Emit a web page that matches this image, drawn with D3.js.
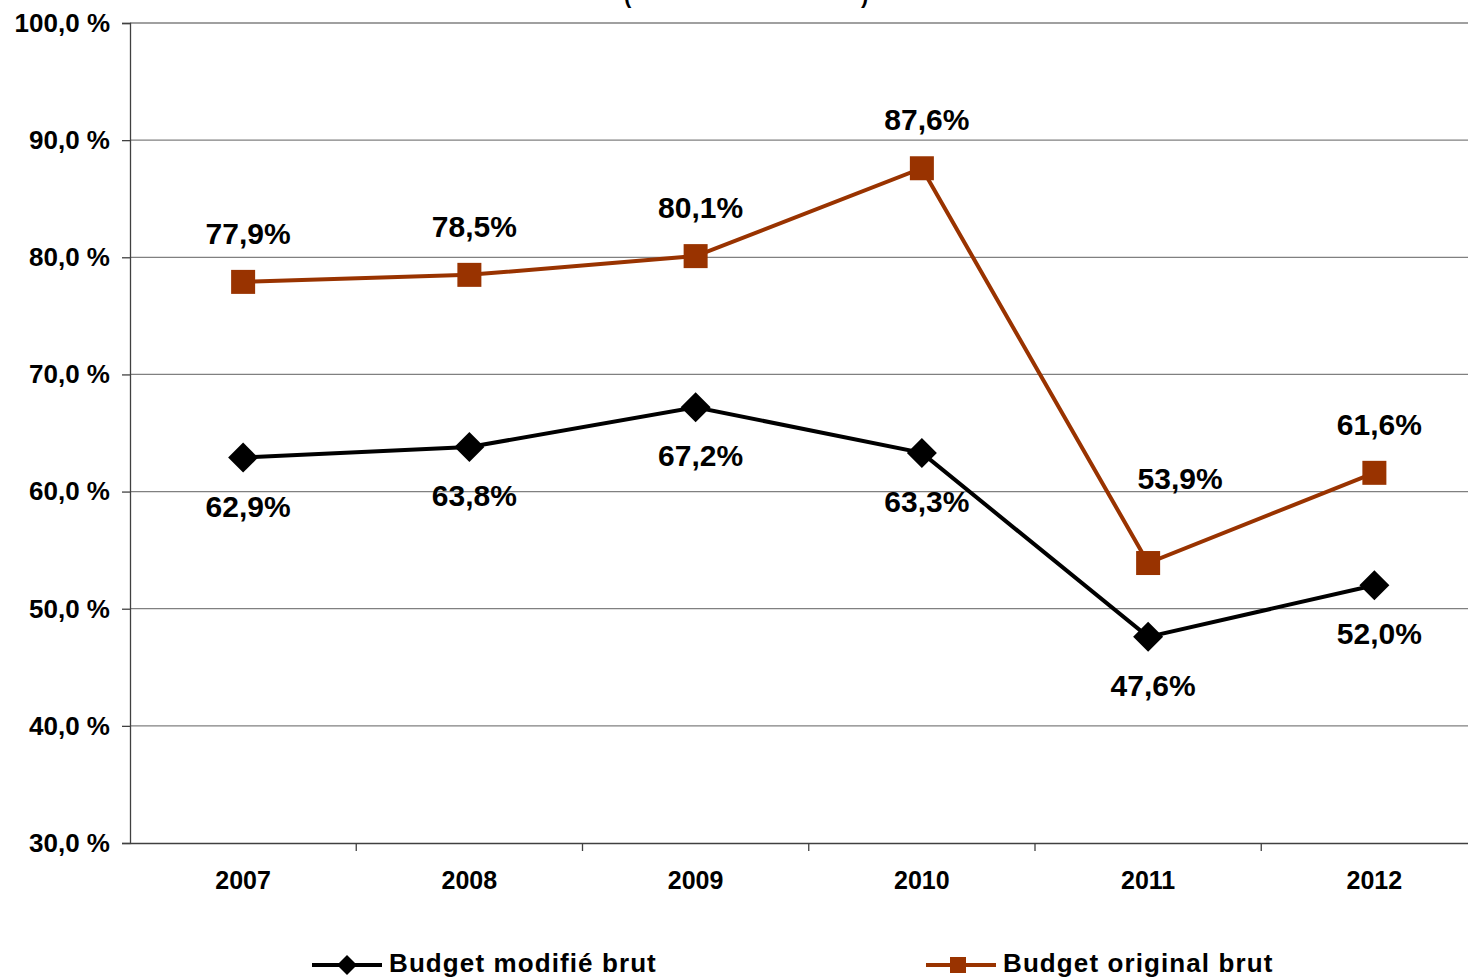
<!DOCTYPE html>
<html><head><meta charset="utf-8">
<script src="https://cdn.jsdelivr.net/npm/d3@7"></script>
<style>body{margin:0;background:#fff;}svg{display:block;font-family:"Liberation Sans",Arial,sans-serif;font-weight:bold;}</style>
</head><body>
<script>
const years = ["2007","2008","2009","2010","2011","2012"];
const budgetModifie = [62.9, 63.8, 67.2, 63.3, 47.6, 52.0];
const budgetOriginal = [77.9, 78.5, 80.1, 87.6, 53.9, 61.6];
const yTicks = [30,40,50,60,70,80,90,100];
const seriesNames = ["Budget modifié brut","Budget original brut"];

const W=1468,H=979;
const svg=d3.select("body").append("svg").attr("width",W).attr("height",H);
const x=d3.scaleBand().domain(years).range([130,1487.5]);
const y=d3.scaleLinear().domain([30,100]).range([843,23]);
const fmt=v=>d3.format(".1f")(v).replace(".",",");
const FF="'Liberation Sans',Arial,sans-serif";

// title remnants (clipped at the top edge in the reference)
svg.append("text").attr("x",624).attr("y",3).attr("font-size",22).text("(");
svg.append("text").attr("x",861).attr("y",3).attr("font-size",22).text(")");

// gridlines
svg.append("g").selectAll("line").data(yTicks.filter(t=>t>30)).join("line")
 .attr("x1",130).attr("x2",W).attr("y1",d=>y(d)).attr("y2",d=>y(d))
 .attr("stroke","#808080").attr("stroke-width",1.3);

// y axis
const ya=svg.append("g").attr("transform","translate(130,0)")
 .call(d3.axisLeft(y).tickValues(yTicks).tickSize(8).tickPadding(12).tickFormat(d=>fmt(d)+" %"));
ya.select(".domain").attr("stroke","#404040").attr("stroke-width",1.3);
ya.selectAll(".tick line").attr("stroke","#404040").attr("stroke-width",1.3);
ya.selectAll("text").attr("font-size",26).attr("font-weight","bold").attr("fill","#000").attr("font-family",FF);

// x axis
const xa=svg.append("g").attr("transform","translate(0,843)")
 .call(d3.axisBottom(x).tickSize(0).tickPadding(28));
xa.select(".domain").attr("stroke","#404040").attr("stroke-width",1.3);
xa.selectAll("text").attr("font-size",25).attr("font-weight","bold").attr("fill","#000").attr("font-family",FF);
const bounds=x.domain().map(d=>x(d)).slice(1);
svg.append("g").selectAll("line").data(bounds).join("line")
 .attr("x1",d=>d).attr("x2",d=>d).attr("y1",843).attr("y2",851)
 .attr("stroke","#404040").attr("stroke-width",1.3);

const cx=d=>x(d)+x.bandwidth()/2;
const line=d3.line().x((d,i)=>cx(years[i])).y(d=>y(d));
const orange="#993300";

// orange series
svg.append("path").datum(budgetOriginal).attr("d",line).attr("fill","none")
 .attr("stroke",orange).attr("stroke-width",4);
svg.append("g").selectAll("rect").data(budgetOriginal).join("rect")
 .attr("x",(d,i)=>cx(years[i])-12).attr("y",d=>y(d)-12).attr("width",24).attr("height",24)
 .attr("fill",orange);
// black series
svg.append("path").datum(budgetModifie).attr("d",line).attr("fill","none")
 .attr("stroke","#000").attr("stroke-width",4);
const diamond=s=>`M0,${-s}L${s},0L0,${s}L${-s},0Z`;
svg.append("g").selectAll("path").data(budgetModifie).join("path")
 .attr("d",diamond(15)).attr("transform",(d,i)=>`translate(${cx(years[i])},${y(d)})`).attr("fill","#000");

// labels (the 2011 original label is nudged away from the crossing line, as in the reference)
svg.append("g").selectAll("text").data(budgetOriginal).join("text")
 .attr("x",(d,i)=>cx(years[i])+(i===4?32:5)).attr("y",(d,i)=>y(d)-(i===4?74:38)).attr("text-anchor","middle")
 .attr("font-size",30).text(d=>fmt(d)+"%");
svg.append("g").selectAll("text").data(budgetModifie).join("text")
 .attr("x",(d,i)=>cx(years[i])+5).attr("y",d=>y(d)+59).attr("text-anchor","middle")
 .attr("font-size",30).text(d=>fmt(d)+"%");

// legend
const lg=svg.append("g");
lg.append("line").attr("x1",312).attr("x2",382).attr("y1",965).attr("y2",965).attr("stroke","#000").attr("stroke-width",4);
lg.append("path").attr("d",diamond(10)).attr("transform","translate(347,965)").attr("fill","#000");
lg.append("text").attr("x",389).attr("y",972).attr("font-size",26).attr("letter-spacing",1.1).text(seriesNames[0]);
lg.append("line").attr("x1",926).attr("x2",996).attr("y1",965).attr("y2",965).attr("stroke",orange).attr("stroke-width",4);
lg.append("rect").attr("x",950).attr("y",957).attr("width",16).attr("height",16).attr("fill",orange);
lg.append("text").attr("x",1003).attr("y",972).attr("font-size",26).attr("letter-spacing",1.1).text(seriesNames[1]);
</script>
</body></html>
